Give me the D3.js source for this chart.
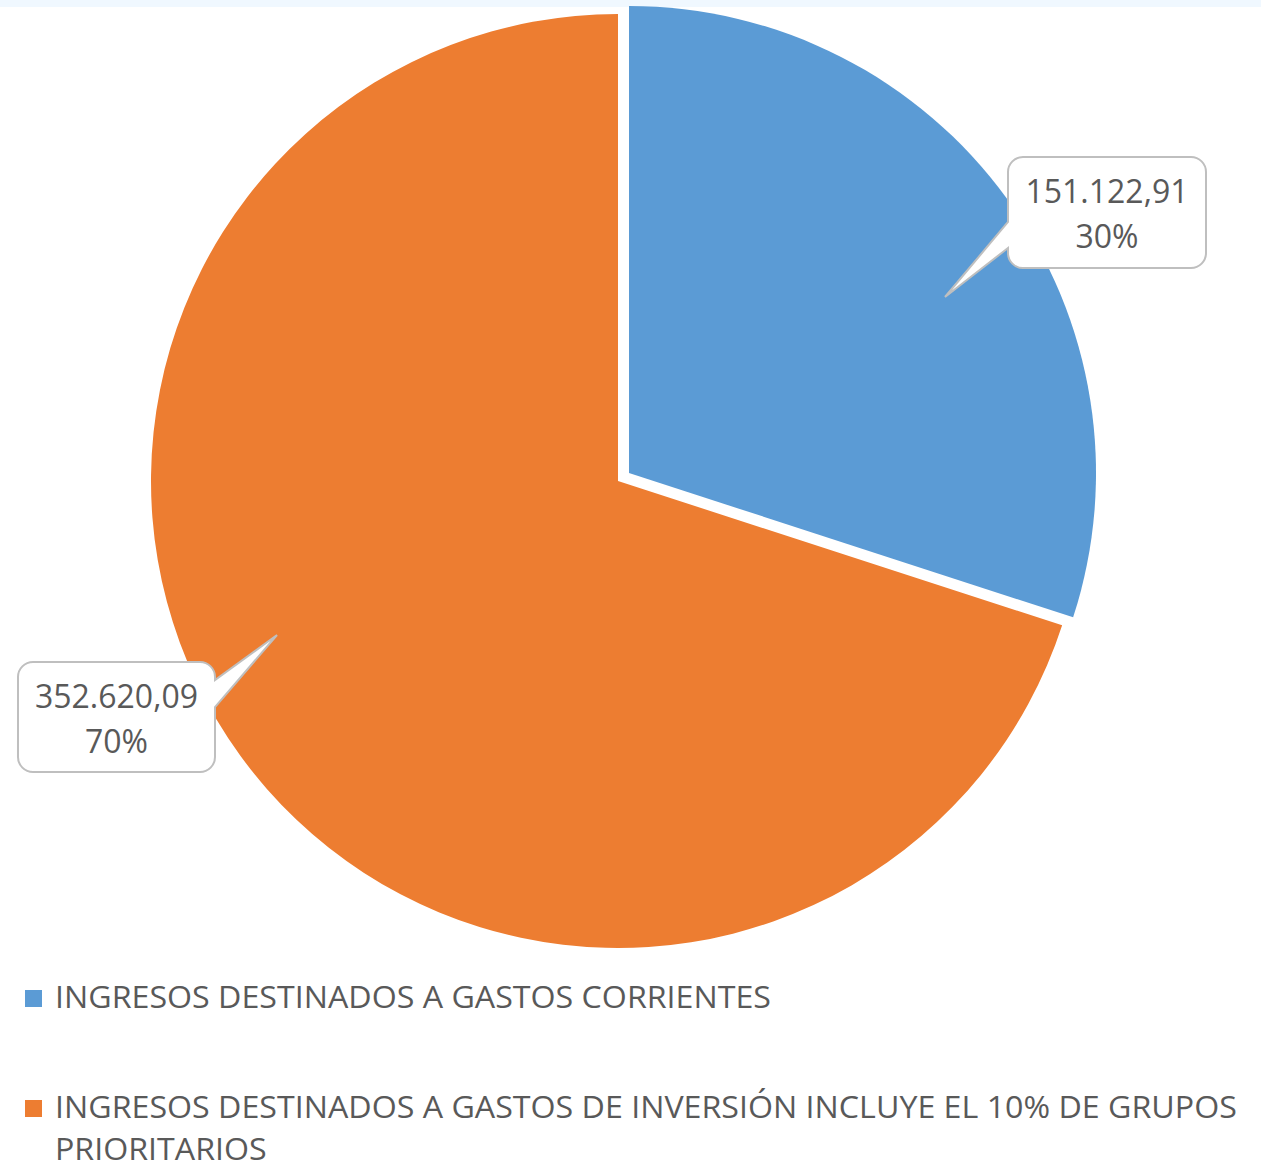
<!DOCTYPE html>
<html>
<head>
  <meta charset="utf-8">
  <title>Ingresos destinados</title>
  <script src="https://d3js.org/d3.v7.min.js"></script>
  <style>
    body { margin: 0; background: #fff; }
    svg text { font-family: "Open Sans", "DejaVu Sans", sans-serif; fill: #595959; }
  </style>
</head>
<body>
<div id="chart"></div>
<script>
// data
var categories = [
  "INGRESOS DESTINADOS A GASTOS CORRIENTES",
  "INGRESOS DESTINADOS A GASTOS DE INVERSIÓN INCLUYE EL 10% DE GRUPOS PRIORITARIOS"
];
var values = [151122.91, 352620.09];
var valueLabels = ["151.122,91", "352.620,09"];
var percentLabels = ["30%", "70%"];
var colors = ["#5b9bd5", "#ed7d31"];

var W = 1261, H = 1165;
var svg = d3.select("#chart").append("svg")
  .attr("width", W).attr("height", H);

// pale band along the top edge
svg.append("rect").attr("x", 0).attr("y", 0).attr("width", W).attr("height", 7)
  .attr("fill", "#f0f8ff");

var cx = 618, cy = 481, radius = 467, explode = 13.6;

var pie = d3.pie().sort(null).value(function (d) { return d; });
var arcs = pie(values);
var arc = d3.arc().innerRadius(0).outerRadius(radius);

var g = svg.append("g").attr("transform", "translate(" + cx + "," + cy + ")");

g.selectAll("path.slice")
  .data(arcs)
  .enter()
  .append("path")
  .attr("class", "slice")
  .attr("d", arc)
  .attr("fill", function (d, i) { return colors[i]; })
  .attr("transform", function (d, i) {
    // only the first (blue) slice is pulled out
    if (i !== 0) return null;
    var mid = (d.startAngle + d.endAngle) / 2;
    return "translate(" + (Math.sin(mid) * explode) + "," + (-Math.cos(mid) * explode) + ")";
  });

// callout boxes: rounded rect with a pointer on one side
function calloutPath(x, y, w, h, r, side, b1, b2, tip) {
  var p = "M" + (x + r) + "," + y + " H" + (x + w - r) +
    " A" + r + "," + r + " 0 0 1 " + (x + w) + "," + (y + r);
  if (side === "right") {
    p += " V" + b1 + " L" + tip[0] + "," + tip[1] + " L" + (x + w) + "," + b2;
  }
  p += " V" + (y + h - r) + " A" + r + "," + r + " 0 0 1 " + (x + w - r) + "," + (y + h) +
    " H" + (x + r) + " A" + r + "," + r + " 0 0 1 " + x + "," + (y + h - r);
  if (side === "left") {
    p += " V" + b2 + " L" + tip[0] + "," + tip[1] + " L" + x + "," + b1;
  }
  p += " V" + (y + r) + " A" + r + "," + r + " 0 0 1 " + (x + r) + "," + y + " Z";
  return p;
}

var callouts = [
  { x: 1008, y: 157, w: 198, h: 111, side: "left", b1: 222, b2: 248, tip: [945, 297] },
  { x: 18, y: 662, w: 197, h: 110, side: "right", b1: 680, b2: 707, tip: [277, 635] }
];

callouts.forEach(function (c, i) {
  svg.append("path")
    .attr("d", calloutPath(c.x, c.y, c.w, c.h, 15, c.side, c.b1, c.b2, c.tip))
    .attr("fill", "#fff")
    .attr("stroke", "#bfbfbf")
    .attr("stroke-width", 2);
  var t = svg.append("text")
    .attr("text-anchor", "middle")
    .style("font-size", "32px");
  t.append("tspan").attr("x", c.x + c.w / 2).attr("y", c.y + 46).text(valueLabels[i]);
  t.append("tspan").attr("x", c.x + c.w / 2).attr("y", c.y + 91).text(percentLabels[i]);
});

// legend
var legendLines = [
  [categories[0]],
  ["INGRESOS DESTINADOS A GASTOS DE INVERSIÓN INCLUYE EL 10% DE GRUPOS", "PRIORITARIOS"]
];
var legendY = [1008, 1118];
var lineH = 42;
var texts = [];

legendLines.forEach(function (lines, i) {
  svg.append("rect")
    .attr("x", 25).attr("y", legendY[i] - 18)
    .attr("width", 17).attr("height", 17)
    .attr("fill", colors[i]);
  lines.forEach(function (line, j) {
    var t = svg.append("text")
      .attr("x", 55)
      .attr("y", legendY[i] + j * lineH)
      .style("font-size", "31px")
      .text(line);
    texts.push(t);
  });
});

// the original font is narrower; squeeze legend text by a common ratio
var ratio = 716 / texts[0].node().getComputedTextLength();
texts.forEach(function (t) {
  var len = t.node().getComputedTextLength();
  t.attr("textLength", len * ratio).attr("lengthAdjust", "spacingAndGlyphs");
});
</script>
</body>
</html>
